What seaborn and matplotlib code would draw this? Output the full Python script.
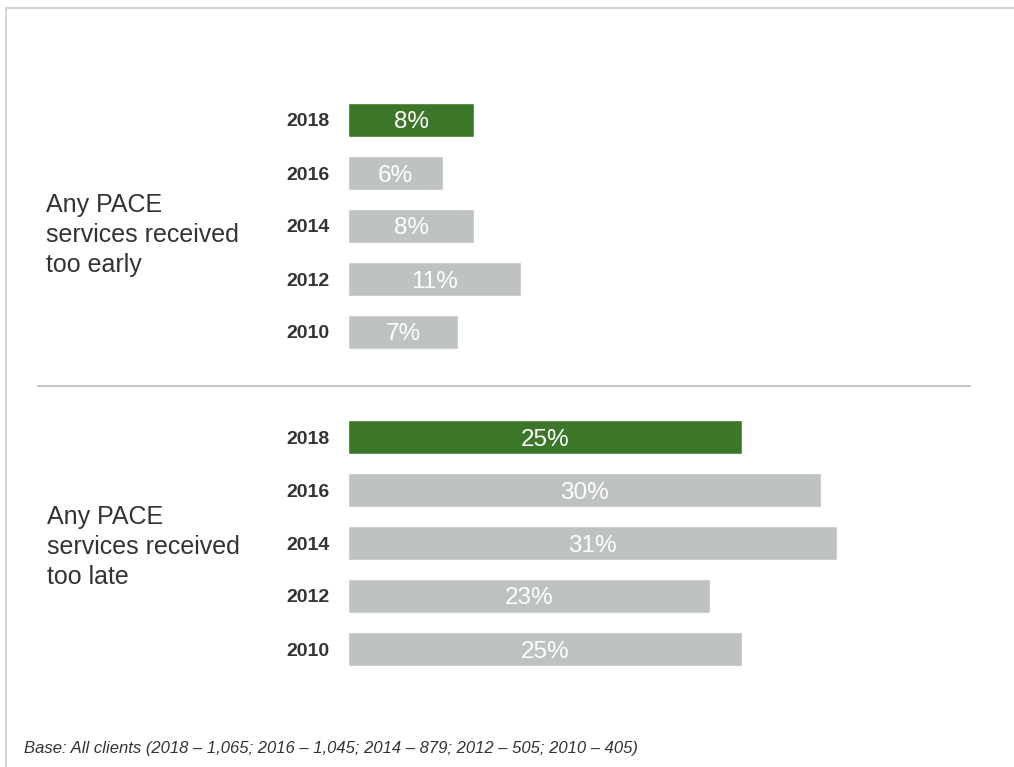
import matplotlib
matplotlib.use("Agg")
import matplotlib.pyplot as plt
import seaborn as sns
import pandas as pd
from matplotlib.lines import Line2D

years = ["2018", "2016", "2014", "2012", "2010"]
too_early = [8, 6, 8, 11, 7]
too_late = [25, 30, 31, 23, 25]
group_labels = ["Any PACE\nservices received\ntoo early", "Any PACE\nservices received\ntoo late"]
footnote = "Base: All clients (2018 \u2013 1,065; 2016 \u2013 1,045; 2014 \u2013 879; 2012 \u2013 505; 2010 \u2013 405)"

GREEN = "#3b7629"
GREY = "#bec3bf"
palette = {y: (GREEN if y == "2018" else GREY) for y in years}

sns.set_theme(style="white")
plt.rcParams["font.family"] = ["Liberation Sans", "DejaVu Sans"]

W, H = 1014, 767
fig = plt.figure(figsize=(W / 100, H / 100), dpi=100)
fig.patch.set_facecolor("white")

x0, x1 = 348, 970
xmax = 39.47


def panel(values, top_px, bottom_px):
    ax = fig.add_axes([x0 / W, 1 - bottom_px / H, (x1 - x0) / W, (bottom_px - top_px) / H])
    df = pd.DataFrame({"year": years, "pct": values})
    sns.barplot(data=df, x="pct", y="year", hue="year", palette=palette,
                order=years, hue_order=years, orient="h", width=0.66,
                legend=False, ax=ax, saturation=1)
    ax.set_xlim(0, xmax)
    ax.set_ylim(4.5, -0.5)
    for c in ax.containers:
        labs = ax.bar_label(c, fmt="%g%%", label_type="center", color="white",
                            fontsize=17.5)
        for t in labs:
            t.set_va("center_baseline")
    ax.set_xlabel("")
    ax.set_ylabel("")
    ax.set_xticks([])
    ax.tick_params(axis="y", length=0, pad=13)
    for lab in ax.get_yticklabels():
        lab.set_fontweight("bold")
        lab.set_fontsize(14)
        lab.set_color("#333333")
    for s in ax.spines.values():
        s.set_visible(False)
    ax.set_facecolor("none")
    return ax


panel(too_early, 93.5, 358.5)
panel(too_late, 410.5, 675.5)

# group labels
fig.text(46 / W, 1 - 235 / H, group_labels[0], ha="left", va="center",
         fontsize=18, color="#333333", linespacing=1.3)
fig.text(47 / W, 1 - 547 / H, group_labels[1], ha="left", va="center",
         fontsize=18, color="#333333", linespacing=1.3)

# divider between the two groups
fig.add_artist(Line2D([38 / W, 970 / W], [1 - 386 / H, 1 - 386 / H],
                      color="#c8c8c8", linewidth=1.5))

# frame lines at top and left
fig.add_artist(Line2D([6 / W, 1], [1 - 8 / H, 1 - 8 / H], color="#d4d4d4", linewidth=1.5))
fig.add_artist(Line2D([6 / W, 6 / W], [0, 1 - 8 / H], color="#d4d4d4", linewidth=1.5))

fig.text(24 / W, 1 - 748 / H, footnote, ha="left", va="center",
         fontsize=12, style="italic", color="#333333")

fig.savefig("out.png", dpi=100, facecolor="white")
